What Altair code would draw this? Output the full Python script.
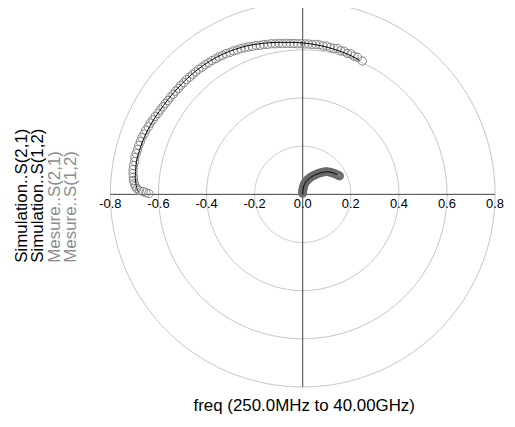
import altair as alt
import numpy as np
import pandas as pd

# ---------------- data ----------------
grid_radii = [0.2, 0.4, 0.6, 0.8]
tick_values = [-0.8, -0.6, -0.4, -0.2, 0.0, 0.2, 0.4, 0.6, 0.8]
tick_labels = ["-0.8", "-0.6", "-0.4", "-0.2", "0.0", "0.2", "0.4", "0.6", "0.8"]

legend_labels = ["Simulation..S(2,1)", "Simulation..S(1,2)", "Mesure..S(2,1)", "Mesure..S(1,2)"]
freq_title = "freq (250.0MHz to 40.00GHz)"

# Measured S(2,1): phase (deg) / magnitude
meas21_phase = [179.7, 179.4, 179.0, 178.6, 178.0, 177.2, 176.3, 175.3, 174.2, 173.0,
                171.7, 170.4, 169.0, 167.6, 166.2, 164.8, 163.4, 162.0, 160.6, 159.2,
                157.8, 156.4, 155.0, 153.6, 152.2, 150.8, 149.4, 148.0, 146.6, 145.2,
                143.8, 142.4, 141.0, 139.6, 138.2, 136.8, 135.4, 134.0, 132.6, 131.2,
                129.8, 128.4, 127.0, 125.6, 124.2, 122.8, 121.4, 120.0, 118.6, 117.2,
                115.8, 114.4, 113.0, 111.6, 110.2, 108.8, 107.4, 106.0, 104.6, 103.2,
                101.8, 100.4, 99.0, 97.6, 96.2, 94.8, 93.4, 92.0, 90.6, 89.2,
                87.8, 86.4, 85.0, 83.6, 82.2, 80.8, 79.4, 78.0, 76.6, 75.2,
                73.8, 72.4, 71.0, 69.6, 68.2, 65.9]
meas21_mag = [0.640, 0.652, 0.664, 0.680, 0.690, 0.697, 0.702, 0.706, 0.708, 0.711,
              0.713, 0.714, 0.712, 0.715, 0.713, 0.712, 0.712, 0.710, 0.709, 0.706,
              0.705, 0.701, 0.700, 0.696, 0.694, 0.690, 0.689, 0.686, 0.685, 0.683,
              0.683, 0.681, 0.681, 0.679, 0.680, 0.678, 0.679, 0.677, 0.677, 0.676,
              0.676, 0.674, 0.674, 0.672, 0.672, 0.670, 0.669, 0.667, 0.666, 0.663,
              0.662, 0.659, 0.658, 0.655, 0.653, 0.649, 0.648, 0.644, 0.643, 0.640,
              0.639, 0.636, 0.635, 0.632, 0.631, 0.629, 0.628, 0.626, 0.626, 0.625,
              0.625, 0.624, 0.625, 0.625, 0.622, 0.624, 0.621, 0.620, 0.623, 0.617,
              0.619, 0.614, 0.617, 0.612, 0.613, 0.607]

# Simulated S(2,1)
sim21_phase = [179.2, 176.5, 174.0, 170.0, 165.0, 160.0, 155.0, 150.0, 145.0, 140.0,
               135.0, 130.0, 125.0, 120.0, 115.0, 110.0, 105.0, 100.0, 95.0, 90.0,
               85.0, 80.0, 75.0, 70.0, 67.0]
sim21_mag = [0.683, 0.695, 0.701, 0.704, 0.703, 0.700, 0.695, 0.689, 0.685, 0.682,
             0.680, 0.678, 0.675, 0.671, 0.665, 0.658, 0.649, 0.641, 0.634, 0.629,
             0.624, 0.619, 0.614, 0.609, 0.605]

# Measured S(1,2)
meas12_mag = [0.004, 0.010, 0.016, 0.022, 0.028, 0.034, 0.040, 0.046, 0.052, 0.058,
              0.064, 0.070, 0.076, 0.082, 0.088, 0.094, 0.100, 0.106, 0.112, 0.118,
              0.124, 0.130, 0.136, 0.141, 0.146, 0.151, 0.156, 0.160, 0.164, 0.168, 0.171]
meas12_phase = [95.0, 92.0, 89.0, 87.0, 85.0, 83.0, 81.5, 80.0, 77.5, 74.5,
                71.5, 68.5, 66.0, 63.5, 61.0, 58.5, 56.0, 54.0, 52.0, 50.0,
                48.0, 46.0, 44.0, 41.5, 39.0, 36.5, 34.0, 32.0, 30.0, 28.0, 26.5]

# Simulated S(1,2)
sim12_mag = [0.0, 0.020, 0.045, 0.070, 0.095, 0.120, 0.140, 0.155, 0.165]
sim12_phase = [90.0, 86.0, 79.0, 68.0, 58.0, 49.0, 42.0, 35.0, 29.5]


def to_xy(mag, phase):
    a = np.radians(np.asarray(phase, dtype=float))
    m = np.asarray(mag, dtype=float)
    return pd.DataFrame({"x": m * np.cos(a), "y": m * np.sin(a), "i": np.arange(len(m))})


m21 = to_xy(meas21_mag, meas21_phase)
s21 = to_xy(sim21_mag, sim21_phase)
m12 = to_xy(meas12_mag, meas12_phase)
s12 = to_xy(sim12_mag, sim12_phase)

ang = np.linspace(0, 2 * np.pi, 361)
grid_df = pd.concat(
    [pd.DataFrame({"x": r * np.cos(ang), "y": r * np.sin(ang), "i": np.arange(len(ang)), "r": r})
     for r in grid_radii],
    ignore_index=True,
)
ticks_df = pd.DataFrame({"x": tick_values, "lab": tick_labels, "y": [0.0] * len(tick_values)})
axis_df = pd.DataFrame({"x": [min(tick_values)], "x2": [max(tick_values)], "y": [0.0]})
one_df = pd.DataFrame({"k": [0]})

# ---------------- chart ----------------
W, H = 387, 380
xs = alt.Scale(domain=[-0.8, 0.8], nice=False, zero=False)
ys = alt.Scale(domain=[-0.8, 0.769], nice=False, zero=False)
X = alt.X("x:Q", scale=xs, axis=None)
Y = alt.Y("y:Q", scale=ys, axis=None)
FONT = "Liberation Sans"

grid = alt.Chart(grid_df).mark_line(color="#c4c4c4", strokeWidth=1).encode(
    x=X, y=Y, detail="r:N", order="i:Q")

hline = alt.Chart(axis_df).mark_rule(color="#404040", strokeWidth=1).encode(
    x=X, x2="x2:Q", y=Y)
vline = alt.Chart(one_df).mark_rule(color="#404040", strokeWidth=1).encode(
    x=alt.value(W / 2), y=alt.value(-8), y2=alt.value(H))

tick_text = alt.Chart(ticks_df).mark_text(
    font=FONT, fontSize=13, color="#000000", dy=14, baseline="alphabetic", align="center"
).encode(x=X, y=Y, text="lab:N")

meas21_pts = alt.Chart(m21).mark_point(
    shape="circle", size=70, filled=False, color="#858585", strokeWidth=1, opacity=1
).encode(x=X, y=Y)
meas12_pts = alt.Chart(m12).mark_point(
    shape="circle", size=52, filled=False, color="#6a6a6a", strokeWidth=1.7, opacity=1
).encode(x=X, y=Y)

sim21_line = alt.Chart(s21).mark_line(color="#000000", strokeWidth=1, interpolate="monotone").encode(
    x=X, y=Y, order="i:Q")
sim12_line = alt.Chart(s12).mark_line(color="#000000", strokeWidth=1, interpolate="monotone").encode(
    x=X, y=Y, order="i:Q")

legend_x = [-84, -68, -51, -35]
legend_col = ["#000000", "#000000", "#8c8c8c", "#8c8c8c"]
legend_layers = []
for lab, px, col in zip(legend_labels, legend_x, legend_col):
    legend_layers.append(
        alt.Chart(one_df).mark_text(
            text=lab, font=FONT, fontSize=17, color=col, angle=270,
            align="left", baseline="alphabetic"
        ).encode(x=alt.value(px), y=alt.value(255))
    )

title_text = alt.Chart(one_df).mark_text(
    text=freq_title, font=FONT, fontSize=17, color="#000000", align="center", baseline="alphabetic"
).encode(x=alt.value(195), y=alt.value(404))

chart = alt.layer(
    grid, hline, vline, tick_text, meas21_pts, meas12_pts, sim21_line, sim12_line,
    *legend_layers, title_text
).properties(
    width=W, height=H,
    autosize=alt.AutoSizeParams(type="none"),
    padding={"left": 103, "top": 0, "right": 12, "bottom": 30},
    background="#ffffff",
).configure_view(stroke=None)

chart.save("out.html", embed_options={"renderer": "svg", "actions": False})
